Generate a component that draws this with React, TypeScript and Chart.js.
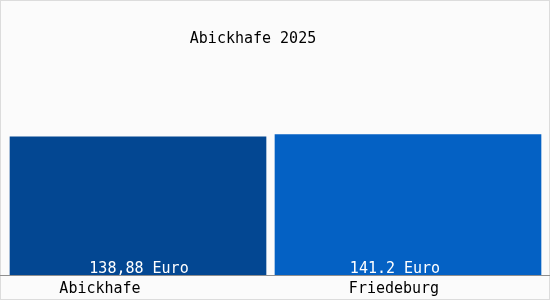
import React, { useEffect, useRef } from "react";
import { Chart, registerables } from "chart.js";

Chart.register(...registerables);

const title = "Abickhafe 2025";
const categories = ["Abickhafe", "Friedeburg"];
const values = [138.88, 141.2];
const valueLabels = ["138,88 Euro", "141.2 Euro"];
const barColors = ["#034792", "#0461c4"];

const FONT = "15px 'DejaVu Sans Mono', monospace";

const decorPlugin = {
  id: "decor",
  beforeDraw(chart: any) {
    const { ctx, width, height } = chart;
    ctx.save();
    ctx.fillStyle = "#fbfbfb";
    ctx.fillRect(0, 0, width, height);
    ctx.strokeStyle = "#dcdcdc";
    ctx.lineWidth = 1;
    ctx.strokeRect(0.5, 0.5, width - 1, height - 1);
    ctx.restore();
  },
  afterDatasetsDraw(chart: any, _args: any, opts: any) {
    const { ctx, width } = chart;
    const x = chart.scales.x;
    const y = chart.scales.y;
    const base = y.getPixelForValue(0);
    ctx.save();
    // axis line
    ctx.strokeStyle = "#8f8f8f";
    ctx.lineWidth = 1;
    ctx.beginPath();
    ctx.moveTo(0, Math.round(base) + 0.5);
    ctx.lineTo(width, Math.round(base) + 0.5);
    ctx.stroke();
    ctx.font = FONT;
    ctx.textAlign = "center";
    ctx.textBaseline = "alphabetic";
    // title
    ctx.fillStyle = "#000";
    ctx.fillText(title, opts.titleX, 43);
    categories.forEach((c, i) => {
      const cx = x.getPixelForValue(i);
      ctx.fillStyle = "#000";
      ctx.fillText(c, cx + opts.labelShift[i], 293);
      ctx.fillStyle = "#fff";
      ctx.fillText(valueLabels[i], cx + opts.valueShift[i], 273);
    });
    ctx.restore();
  },
};

export default function App() {
  const ref = useRef<HTMLCanvasElement>(null);
  useEffect(() => {
    document.body.style.margin = "0";
    const canvas = ref.current!;
    const chart = new Chart(canvas, {
      type: "bar",
      data: {
        labels: categories,
        datasets: values.map((v, i) => ({
          data: categories.map((_, j) => (j === i ? v : null)),
          backgroundColor: barColors[i],
          borderWidth: 0,
          barThickness: i === 0 ? 256 : 266,
        })),
      },
      options: {
        responsive: false,
        animation: false,
        layout: { padding: { left: 3, right: 7, top: 76, bottom: 25 } },
        datasets: { bar: { grouped: false } } as any,
        scales: {
          x: { display: false },
          y: { display: false, min: 0, max: 200 },
        },
        plugins: {
          legend: { display: false },
          tooltip: { enabled: false },
          decor: { titleX: 253, labelShift: [-38, -14], valueShift: [1, -13] },
        } as any,
      },
      plugins: [decorPlugin],
    });
    return () => chart.destroy();
  }, []);
  return <canvas ref={ref} width={550} height={300} style={{ display: "block" }} />;
}
